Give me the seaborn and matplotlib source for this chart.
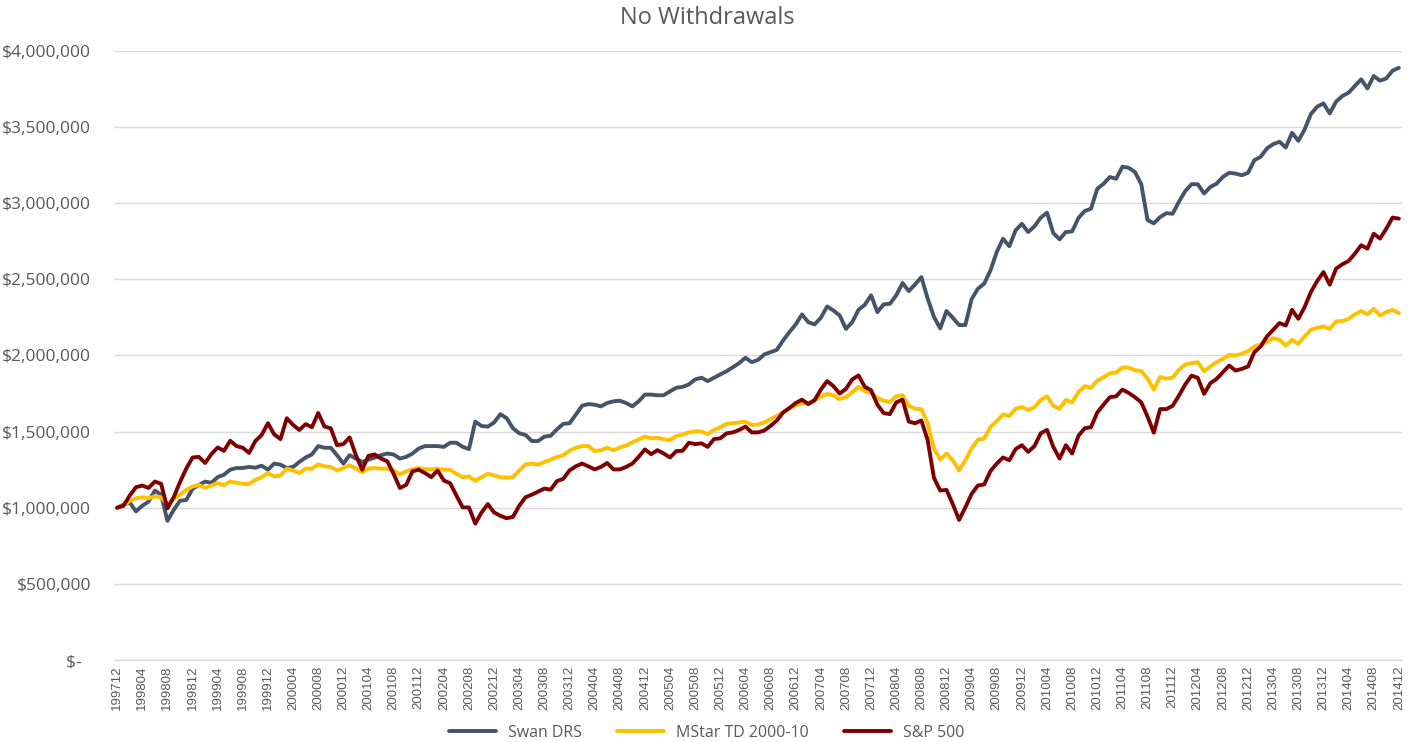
import matplotlib
matplotlib.use('Agg')
import matplotlib.pyplot as plt
import numpy as np
import pandas as pd
import seaborn as sns

# monthly values in $ thousands, 199712 .. 201412
months = pd.period_range('1997-12', '2014-12', freq='M').strftime('%Y%m').tolist()

swan_drs = [
    1000, 1020, 1035, 976, 1013, 1040, 1113, 1086, 914, 985,
    1046, 1051, 1124, 1150, 1172, 1164, 1201, 1217, 1250, 1261,
    1261, 1268, 1263, 1276, 1250, 1290, 1283, 1261, 1268, 1301,
    1330, 1350, 1405, 1394, 1394, 1345, 1290, 1345, 1323, 1301,
    1316, 1330, 1345, 1356, 1350, 1323, 1334, 1356, 1389, 1405,
    1405, 1405, 1400, 1427, 1427, 1400, 1385, 1566, 1537, 1533,
    1560, 1615, 1588, 1522, 1489, 1478, 1438, 1438, 1467, 1473,
    1515, 1551, 1555, 1611, 1670, 1681, 1677, 1666, 1688, 1699,
    1703, 1688, 1666, 1699, 1743, 1743, 1739, 1739, 1765, 1788,
    1794, 1810, 1843, 1854, 1832, 1854, 1876, 1897, 1923, 1950,
    1985, 1956, 1971, 2007, 2022, 2037, 2099, 2154, 2204, 2270,
    2219, 2204, 2248, 2322, 2296, 2263, 2175, 2219, 2300, 2333,
    2395, 2285, 2336, 2340, 2395, 2476, 2423, 2467, 2515, 2375,
    2254, 2178, 2292, 2248, 2200, 2200, 2370, 2439, 2472, 2559,
    2680, 2767, 2717, 2822, 2865, 2811, 2848, 2905, 2938, 2804,
    2763, 2811, 2815, 2903, 2949, 2964, 3095, 3128, 3172, 3161,
    3240, 3233, 3205, 3125, 2890, 2868, 2909, 2935, 2931, 3010,
    3080, 3125, 3125, 3064, 3107, 3129, 3173, 3200, 3195, 3184,
    3200, 3283, 3305, 3360, 3388, 3404, 3366, 3463, 3410, 3485,
    3586, 3634, 3656, 3590, 3667, 3704, 3726, 3770, 3814, 3754,
    3836, 3805, 3820, 3871, 3890,
]

mstar_td = [
    1000, 1013, 1046, 1062, 1069, 1062, 1075, 1069, 1024, 1058,
    1086, 1117, 1139, 1150, 1130, 1146, 1161, 1148, 1172, 1164,
    1157, 1157, 1184, 1201, 1228, 1206, 1212, 1257, 1245, 1228,
    1257, 1257, 1285, 1272, 1268, 1245, 1261, 1279, 1257, 1234,
    1257, 1261, 1257, 1257, 1245, 1219, 1239, 1254, 1261, 1254,
    1252, 1257, 1250, 1250, 1223, 1201, 1206, 1177, 1201, 1223,
    1212, 1201, 1197, 1201, 1245, 1285, 1290, 1283, 1301, 1316,
    1334, 1345, 1374, 1394, 1405, 1405, 1372, 1378, 1394, 1378,
    1396, 1409, 1429, 1449, 1467, 1456, 1460, 1449, 1445, 1471,
    1482, 1495, 1502, 1500, 1484, 1511, 1529, 1551, 1555, 1560,
    1566, 1544, 1546, 1560, 1582, 1604, 1626, 1655, 1672, 1684,
    1688, 1706, 1728, 1748, 1737, 1714, 1726, 1759, 1794, 1765,
    1754, 1721, 1703, 1695, 1732, 1739, 1670, 1650, 1648, 1555,
    1389, 1316, 1356, 1312, 1245, 1312, 1389, 1447, 1455, 1530,
    1568, 1613, 1603, 1650, 1661, 1642, 1660, 1708, 1732, 1670,
    1650, 1708, 1692, 1760, 1798, 1788, 1835, 1857, 1884, 1888,
    1922, 1920, 1903, 1898, 1848, 1776, 1859, 1848, 1855, 1907,
    1940, 1950, 1956, 1897, 1928, 1956, 1978, 2004, 2000, 2011,
    2029, 2059, 2072, 2088, 2114, 2103, 2066, 2103, 2077, 2125,
    2169, 2182, 2191, 2175, 2224, 2226, 2241, 2270, 2292, 2270,
    2307, 2263, 2285, 2300, 2278,
]

sp500 = [
    1000, 1013, 1080, 1135, 1146, 1130, 1172, 1157, 996, 1069,
    1168, 1257, 1330, 1334, 1294, 1352, 1396, 1374, 1440, 1405,
    1394, 1360, 1438, 1478, 1555, 1482, 1451, 1588, 1544, 1511,
    1549, 1529, 1622, 1533, 1522, 1411, 1418, 1462, 1345, 1250,
    1341, 1350, 1323, 1305, 1223, 1130, 1150, 1239, 1250, 1228,
    1201, 1245, 1179, 1161, 1080, 1002, 1002, 896, 969, 1024,
    969, 947, 931, 940, 1013, 1069, 1086, 1106, 1126, 1119,
    1175, 1190, 1245, 1272, 1290, 1272, 1252, 1268, 1294, 1252,
    1252, 1268, 1290, 1334, 1383, 1352, 1378, 1356, 1330, 1372,
    1374, 1427, 1418, 1423, 1400, 1451, 1456, 1489, 1495, 1511,
    1533, 1495, 1495, 1507, 1538, 1573, 1626, 1655, 1688, 1710,
    1681, 1706, 1776, 1832, 1799, 1750, 1781, 1843, 1869, 1794,
    1772, 1677, 1622, 1615, 1692, 1710, 1566, 1555, 1573, 1445,
    1197, 1113, 1117, 1024, 920, 1002, 1091, 1146, 1153, 1241,
    1290, 1330, 1312, 1385, 1411, 1367, 1405, 1489, 1511, 1400,
    1323, 1411, 1356, 1473, 1522, 1529, 1626, 1677, 1726, 1732,
    1776, 1754, 1726, 1692, 1599, 1493, 1648, 1648, 1670, 1737,
    1810, 1868, 1853, 1748, 1818, 1847, 1890, 1934, 1901, 1912,
    1928, 2022, 2059, 2125, 2169, 2213, 2197, 2300, 2241, 2318,
    2417, 2489, 2548, 2465, 2570, 2599, 2621, 2669, 2724, 2702,
    2800, 2768, 2833, 2906, 2899,
]

series_names = ['Swan DRS', 'MStar TD 2000-10', 'S&P 500']
colors = {'Swan DRS': '#44546A', 'MStar TD 2000-10': '#FFC000', 'S&P 500': '#7F0000'}

frames = []
for name, vals in zip(series_names, [swan_drs, mstar_td, sp500]):
    frames.append(pd.DataFrame({'idx': np.arange(len(months)), 'month': months,
                                'value': np.array(vals) * 1000.0, 'series': name}))
df = pd.concat(frames, ignore_index=True)

sns.set_style('white')
plt.rcParams['font.family'] = ['Open Sans', 'DejaVu Sans']
text_color = '#595959'

fig = plt.figure(figsize=(14.18, 7.42), dpi=100)
ax = fig.add_axes([114 / 1418, 1 - 660 / 742, (1402 - 114) / 1418, (660 - 51) / 742])

sns.lineplot(data=df, x='idx', y='value', hue='series', hue_order=series_names,
             palette=colors, linewidth=2.8, ax=ax, legend=False)

ax.set_xlim(-0.5, len(months) - 0.5)
ax.set_ylim(0, 4_000_000)
yticks = np.arange(0, 4_000_001, 500_000)
ax.set_yticks(yticks)
ax.set_yticklabels(['$-  ' if v == 0 else f'${v:,.0f}' for v in yticks],
                   fontsize=12.5, color=text_color)
tick_idx = list(range(0, len(months), 4))
ax.set_xticks(tick_idx)
ax.set_xticklabels([months[i] for i in tick_idx], rotation=90, fontsize=9.5,
                   color=text_color, family=['Liberation Sans', 'DejaVu Sans'])
ax.tick_params(axis='y', length=0, pad=16.5)
ax.tick_params(axis='x', length=0, pad=4)
ax.set_xlabel('')
ax.set_ylabel('')

ax.grid(axis='y', color='#D9D9D9', linewidth=1.0)
ax.grid(axis='x', visible=False)
ax.set_axisbelow(True)
for side in ['top', 'right', 'left']:
    ax.spines[side].set_visible(False)
ax.spines['bottom'].set_color('#D9D9D9')
ax.spines['bottom'].set_linewidth(1.0)

fig.text(0.4986, 1 - 18 / 742, 'No Withdrawals', ha='center', va='center',
         fontsize=17, color=text_color)

handles = [plt.Line2D([], [], color=colors[n], linewidth=2.8) for n in series_names]
fig.legend(handles, series_names, loc='center', bbox_to_anchor=(0.4986, 1 - 733 / 742),
           ncol=3, frameon=False, fontsize=11.5, handlelength=2.9, columnspacing=2.2,
           handletextpad=0.8, labelcolor=text_color, borderpad=0.2)

fig.savefig('out.png', dpi=100)
